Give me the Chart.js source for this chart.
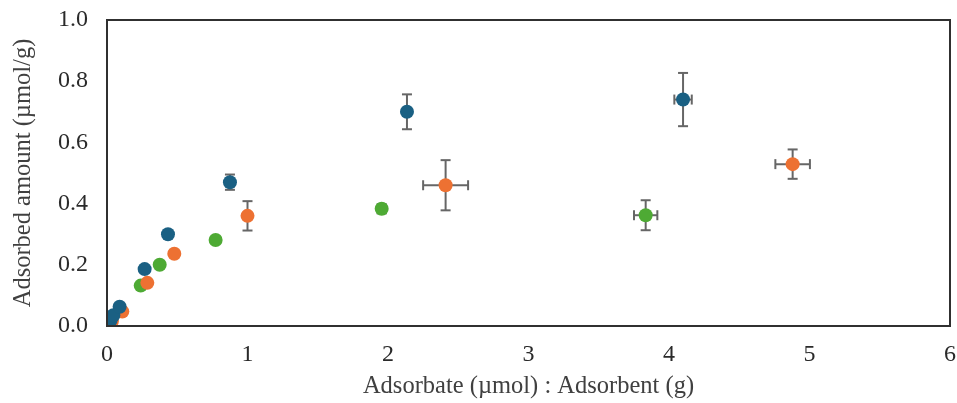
<!DOCTYPE html>
<html>
<head>
<meta charset="utf-8">
<title>Adsorbed amount</title>
<style>
  html, body { margin: 0; padding: 0; background: #fff; }
  canvas { display: block; }
</style>
</head>
<body>
<canvas id="chart" width="957" height="403"></canvas>
<script src="https://cdn.jsdelivr.net/npm/chart.js@4/dist/chart.umd.min.js"></script>
<script>
// values
const blueX    = [0.01, 0.025, 0.045, 0.09, 0.268, 0.434, 0.875, 2.135, 4.10];
const blueY    = [0.008, 0.018, 0.035, 0.063, 0.186, 0.30, 0.47, 0.70, 0.740];
const blueXErr = [0, 0, 0, 0, 0, 0, 0, 0, 0.062];
const blueYErr = [0, 0, 0, 0, 0, 0, 0.025, 0.057, 0.087];

const orangeX    = [0.015, 0.035, 0.109, 0.287, 0.479, 1.0, 2.41, 4.88];
const orangeY    = [0.006, 0.016, 0.047, 0.141, 0.236, 0.36, 0.46, 0.529];
const orangeXErr = [0, 0, 0, 0, 0, 0, 0.16, 0.123];
const orangeYErr = [0, 0, 0, 0, 0, 0.048, 0.082, 0.048];

const greenX    = [0.01, 0.24, 0.375, 0.773, 1.955, 3.834];
const greenY    = [0.005, 0.132, 0.20, 0.281, 0.383, 0.362];
const greenXErr = [0, 0, 0, 0, 0, 0.083];
const greenYErr = [0, 0, 0, 0, 0.015, 0.049];

const xTitle = 'Adsorbate (\u00b5mol) : Adsorbent (g)';
const yTitle = 'Adsorbed amount (\u00b5mol/g)';

const toPoints = (xs, ys) => xs.map((x, i) => ({ x: x, y: ys[i] }));

const serif = "'Liberation Serif', 'Times New Roman', serif";

// draws x/y error bars under the markers, using the chart scales
const errorBars = {
  id: 'errorBars',
  beforeDatasetsDraw(chart) {
    const ctx = chart.ctx;
    const xs = chart.scales.x, ys = chart.scales.y;
    const cap = 5;
    const line = (a, b, c, d) => { ctx.beginPath(); ctx.moveTo(a, b); ctx.lineTo(c, d); ctx.stroke(); };
    ctx.save();
    ctx.strokeStyle = '#666666';
    ctx.lineWidth = 2;
    chart.data.datasets.forEach(ds => {
      ds.data.forEach((p, i) => {
        const px = xs.getPixelForValue(p.x), py = ys.getPixelForValue(p.y);
        const ey = ds.yErr[i], ex = ds.xErr[i];
        if (ey) {
          const t = ys.getPixelForValue(p.y + ey), b = ys.getPixelForValue(p.y - ey);
          line(px, t, px, b);
          line(px - cap, t, px + cap, t);
          line(px - cap, b, px + cap, b);
        }
        if (ex) {
          const l = xs.getPixelForValue(p.x - ex), r = xs.getPixelForValue(p.x + ex);
          line(l, py, r, py);
          line(l, py - cap, l, py + cap);
          line(r, py - cap, r, py + cap);
        }
      });
    });
    ctx.restore();
  }
};

// box round the plot area
const frame = {
  id: 'frame',
  afterDraw(chart) {
    const a = chart.chartArea, ctx = chart.ctx;
    ctx.save();
    ctx.strokeStyle = '#303030';
    ctx.lineWidth = 2;
    ctx.strokeRect(a.left, a.top, a.right - a.left, a.bottom - a.top);
    ctx.restore();
  }
};

new Chart(document.getElementById('chart'), {
  type: 'scatter',
  data: {
    datasets: [
      { data: toPoints(blueX, blueY), xErr: blueXErr, yErr: blueYErr, backgroundColor: '#1a6083' },
      { data: toPoints(orangeX, orangeY), xErr: orangeXErr, yErr: orangeYErr, backgroundColor: '#ed7132' },
      { data: toPoints(greenX, greenY), xErr: greenXErr, yErr: greenYErr, backgroundColor: '#4eaa34' }
    ]
  },
  options: {
    responsive: false,
    animation: false,
    layout: { padding: { left: 0, top: 20, right: 4, bottom: 0 } },
    elements: { point: { radius: 7, hoverRadius: 7, borderWidth: 0 } },
    plugins: { legend: { display: false }, tooltip: { enabled: false } },
    scales: {
      x: {
        type: 'linear', min: 0, max: 6,
        grid: { display: false, drawTicks: false },
        border: { display: false },
        ticks: { stepSize: 1, padding: 14, color: '#2a2a2a', font: { family: serif, size: 24 } },
        title: { display: true, text: xTitle, color: '#404040', padding: { top: 0, bottom: 2 }, font: { family: serif, size: 24.5 } },
        afterFit: s => { s.height = 77; s.paddingLeft = 0; s.paddingRight = 0; }
      },
      y: {
        min: 0, max: 1,
        grid: { display: false, drawTicks: false },
        border: { display: false },
        ticks: { stepSize: 0.2, padding: 19, color: '#2a2a2a', font: { family: serif, size: 24 },
                 callback: v => v.toFixed(1) },
        title: { display: true, text: yTitle, color: '#404040', padding: { top: 9, bottom: 0 }, font: { family: serif, size: 24.5 } },
        afterFit: s => { s.width = 107; s.paddingTop = 0; s.paddingBottom = 0; }
      }
    }
  },
  plugins: [errorBars, frame]
});
</script>
</body>
</html>
